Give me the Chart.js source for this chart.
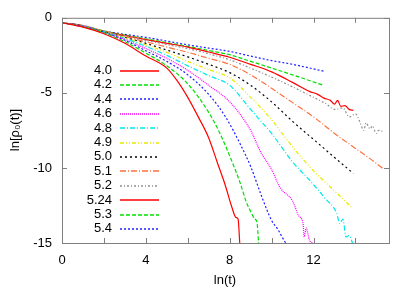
<!DOCTYPE html>
<html>
<head>
<meta charset="utf-8">
<script src="https://cdn.jsdelivr.net/npm/chart.js@4.4.0/dist/chart.umd.min.js"></script>
<style>
  body { margin: 0; background: #fff; }
  #wrap { width: 415px; height: 291px; }
</style>
</head>
<body>
<div id="wrap"><canvas id="chart" width="415" height="291"></canvas></div>
<script>
// ln(t) and ln[rho_0(t)], one pair per curve
const t40 = [0, 1, 2, 3, 4, 5, 5.5, 6, 6.5, 7, 7.4, 7.8, 8.1, 8.3, 8.4, 8.48]
const r40 = [-0.33, -0.62, -1.06, -1.7, -2.55, -3.35, -4.2, -5.3, -6.6, -8.0, -9.6, -11.2, -12.6, -13.3, -13.4, -15]

const t42 = [0, 1, 2, 3, 4, 5, 6, 7, 7.5, 8, 8.5, 8.8, 9.0, 9.2, 9.3, 9.38]
const r42 = [-0.33, -0.6, -1.0, -1.6, -2.35, -3.2, -4.4, -6.3, -7.6, -9.2, -11.0, -12.3, -12.9, -13.4, -13.6, -15]

const t44 = [0, 1, 2, 3, 4, 5, 6, 7, 7.8, 8.5, 9, 9.5, 10, 10.3, 10.5, 10.67]
const r44 = [-0.33, -0.58, -0.97, -1.5, -2.2, -2.9, -3.8, -5.1, -6.6, -8.4, -9.9, -11.8, -13.5, -14.1, -14.6, -15]

const t46 = [0, 1, 2, 3, 4, 5, 6, 7, 8, 9, 9.5, 10, 10.4, 11, 11.3, 11.5, 11.55, 11.65, 11.8, 11.95]
const r46 = [-0.33, -0.57, -0.95, -1.45, -2.05, -2.7, -3.5, -4.5, -5.6, -7.5, -9.0, -10.1, -11.3, -12.2, -13.2, -13.7, -14.6, -14.0, -14.8, -15]

const t48 = [0, 1, 2, 3, 4, 5, 6, 7, 8, 9, 9.5, 10, 11, 11.8, 12.6, 13.1, 13.25, 13.4, 13.55, 13.7, 13.86]
const r48 = [-0.33, -0.56, -0.93, -1.38, -1.9, -2.5, -3.2, -3.85, -4.5, -6.1, -6.9, -7.7, -9.6, -10.8, -12.1, -13.0, -13.7, -13.4, -14.6, -14.5, -15]

const t49 = [0, 1, 2, 3, 4, 5, 6, 7, 8, 9, 10, 11, 12, 12.6, 13.2, 13.8]
const r49 = [-0.33, -0.55, -0.92, -1.32, -1.8, -2.3, -2.9, -3.45, -4.0, -5.3, -6.8, -8.6, -10.2, -11.0, -11.8, -12.6]

const t50 = [0, 1, 2, 3, 4, 5, 6, 7, 8, 9, 10, 11, 12, 13, 13.9]
const r50 = [-0.33, -0.55, -0.92, -1.3, -1.7, -2.15, -2.6, -3.1, -3.65, -4.5, -5.6, -6.9, -8.1, -9.3, -10.37]

const t51 = [0, 1, 2, 3, 4, 5, 6, 7, 8, 9, 10, 11, 12, 13, 14, 15, 15.3]
const r51 = [-0.33, -0.54, -0.9, -1.25, -1.6, -1.95, -2.3, -2.7, -3.1, -3.8, -4.7, -5.65, -6.6, -7.7, -8.7, -9.7, -10.04]

const t52 = [0, 1, 2, 3, 4, 5, 6, 7, 8, 9, 10, 11, 12, 12.6, 13, 13.4, 13.7, 14.0, 14.2, 14.4, 14.5, 14.7, 14.8, 15.0, 15.1, 15.3]
const r52 = [-0.33, -0.53, -0.9, -1.2, -1.5, -1.78, -2.05, -2.4, -2.8, -3.35, -3.95, -4.6, -5.3, -5.73, -6.1, -6.0, -6.6, -6.4, -6.9, -7.5, -7.0, -7.4, -7.2, -7.7, -7.5, -7.55]

const t524 = [0, 1, 2, 3, 4, 5, 6, 7, 8, 9, 10, 11, 11.8, 12.2, 12.5, 12.8, 13.0, 13.15, 13.3, 13.5, 13.7, 13.9]
const r524 = [-0.33, -0.53, -0.9, -1.18, -1.45, -1.7, -1.95, -2.28, -2.63, -3.1, -3.6, -4.3, -4.9, -5.1, -5.35, -5.5, -5.75, -5.5, -5.9, -5.85, -6.1, -6.17]

const t53 = [0, 1, 2, 3, 4, 5, 6, 7, 8, 9, 10, 11, 12.5]
const r53 = [-0.33, -0.53, -0.88, -1.15, -1.4, -1.65, -1.9, -2.18, -2.46, -2.9, -3.35, -3.8, -4.51]

const t54 = [0, 1, 2, 3, 4, 5, 6, 7, 8, 9, 10, 11, 12.5]
const r54 = [-0.33, -0.52, -0.88, -1.1, -1.3, -1.55, -1.8, -2.02, -2.24, -2.55, -2.85, -3.1, -3.56]

const labels = ['4.0', '4.2', '4.4', '4.6', '4.8', '4.9', '5.0', '5.1', '5.2', '5.24', '5.3', '5.4']
const xs = [t40, t42, t44, t46, t48, t49, t50, t51, t52, t524, t53, t54]
const ys = [r40, r42, r44, r46, r48, r49, r50, r51, r52, r524, r53, r54]
const colors = ['#ff0000', '#00e000', '#2020ff', '#ff00ff', '#00e8e8', '#e8e800',
                '#000000', '#ff7040', '#909090', '#ff0000', '#00e000', '#2020ff']
const dashes = [[], [4, 2], [2, 2], [1, 1], [5, 2, 1, 2], [4, 2, 1, 2, 1, 2],
                [2, 3], [6, 2, 1, 2], [2, 2, 1, 2], [], [4, 2], [2, 2]]

const FONT = '"Liberation Sans", Arial, sans-serif'

const datasets = labels.map((lab, i) => ({
    label: lab,
    data: xs[i].map((x, j) => ({ x: x, y: ys[i][j] })),
    borderColor: colors[i],
    borderWidth: 1.2,
    borderDash: dashes[i],
    pointRadius: 0,
    fill: false,
    cubicInterpolationMode: 'monotone'
}))

// gnuplot style frame, inward ticks, axis titles and key
const decor = {
    id: 'decor',
    afterDraw(chart) {
        const ctx = chart.ctx
        const a = chart.chartArea
        const sx = chart.scales.x
        const sy = chart.scales.y
        ctx.save()
        ctx.strokeStyle = '#808080'
        ctx.lineWidth = 1
        ctx.setLineDash([])
        ctx.strokeRect(a.left + 0.5, a.top + 0.5, a.right - a.left, a.bottom - a.top)
        ctx.beginPath()
        for (let v = 0; v <= 14; v += 2) {
            const px = Math.round(sx.getPixelForValue(v)) + 0.5
            ctx.moveTo(px, a.bottom); ctx.lineTo(px, a.bottom - 5)
            ctx.moveTo(px, a.top); ctx.lineTo(px, a.top + 5)
        }
        for (let v = -15; v <= 0; v += 5) {
            const py = Math.round(sy.getPixelForValue(v)) + 0.5
            ctx.moveTo(a.left, py); ctx.lineTo(a.left + 5, py)
            ctx.moveTo(a.right, py); ctx.lineTo(a.right - 5, py)
        }
        ctx.stroke()

        ctx.fillStyle = '#000'
        ctx.font = '13px ' + FONT
        ctx.textAlign = 'center'
        ctx.textBaseline = 'middle'
        ctx.fillText('ln(t)', 225, 280)
        ctx.save()
        ctx.translate(15, 130)
        ctx.rotate(-Math.PI / 2)
        ctx.fillText('ln[ρ₀(t)]', 0, 0)
        ctx.restore()

        // key
        ctx.textAlign = 'right'
        chart.data.datasets.forEach((ds, i) => {
            const y = 70.5 + i * 14.4
            ctx.fillStyle = '#000'
            ctx.fillText(ds.label, 112, y)
            ctx.strokeStyle = colors[i]
            ctx.lineWidth = 1.5
            ctx.setLineDash(dashes[i])
            ctx.beginPath()
            ctx.moveTo(120, Math.round(y))
            ctx.lineTo(159, Math.round(y))
            ctx.stroke()
        })
        ctx.restore()
    }
}

new Chart(document.getElementById('chart'), {
    type: 'line',
    data: { datasets: datasets },
    options: {
        responsive: false,
        animation: false,
        layout: { padding: { top: 17, right: 26, left: 0, bottom: 0 } },
        plugins: { legend: { display: false }, tooltip: { enabled: false } },
        scales: {
            x: {
                type: 'linear',
                min: 0,
                max: 15.6,
                grid: { display: false, drawTicks: false },
                border: { display: false },
                ticks: {
                    stepSize: 2,
                    includeBounds: false,
                    autoSkip: false,
                    maxRotation: 0,
                    padding: 10,
                    color: '#000',
                    font: { family: FONT, size: 13 },
                    callback: v => (v % 4 === 0 ? String(v) : '')
                },
                afterFit: s => { s.height = 48 }
            },
            y: {
                type: 'linear',
                min: -15,
                max: 0,
                grid: { display: false, drawTicks: false },
                border: { display: false },
                ticks: {
                    stepSize: 5,
                    padding: 10,
                    color: '#000',
                    font: { family: FONT, size: 13 }
                },
                afterFit: s => { s.width = 62 }
            }
        }
    },
    plugins: [decor]
});
</script>
</body>
</html>
